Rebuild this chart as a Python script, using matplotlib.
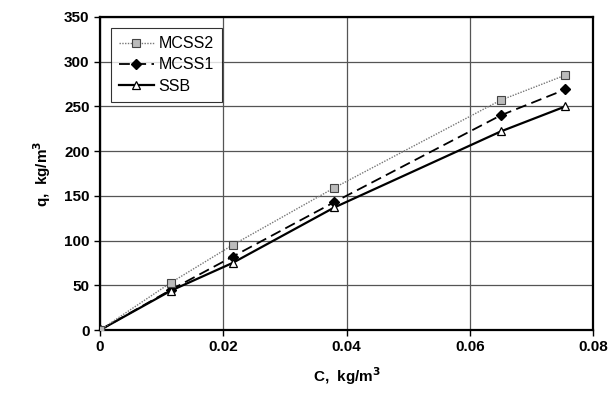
import matplotlib as mpl

mpl.use("Agg")

import matplotlib.pyplot as plt

conc = [0.0, 0.0115, 0.0215, 0.038, 0.065, 0.0755]
mcss2 = [0, 53, 95, 159, 257, 285]
mcss1 = [0, 45, 82, 143, 240, 269]
ssb = [0, 44, 75, 137, 222, 250]

x_ticks = [0, 0.02, 0.04, 0.06, 0.08]
x_labels = ["0", "0.02", "0.04", "0.06", "0.08"]
y_ticks = [0, 50, 100, 150, 200, 250, 300, 350]

plt.rcParams["font.family"] = ["Liberation Sans", "DejaVu Sans"]

fig = plt.figure(figsize=(6.14, 4.0), dpi=100)
ax = fig.add_axes([0.163, 0.175, 0.803, 0.7825])

ax.plot(conc, mcss2, color="#777777", lw=1.0, ls=(0, (1, 1)), marker="s", ms=6,
        mfc="#bbbbbb", mec="#444444", mew=0.8, label="MCSS2", zorder=4)
ax.plot(conc, mcss1, color="black", lw=1.3, ls=(0, (6, 3)), marker="D", ms=5,
        mfc="black", mec="black", label="MCSS1", zorder=3)
ax.plot(conc, ssb, color="black", lw=1.6, marker="^", ms=6,
        mfc="white", mec="black", mew=0.9, label="SSB", zorder=3)

ax.set_xlim(0, 0.08)
ax.set_ylim(0, 350)
ax.set_xticks(x_ticks)
ax.set_xticklabels(x_labels)
ax.set_yticks(y_ticks)
ax.grid(True, color="#555555", lw=0.9)
ax.set_axisbelow(True)
for spine in ax.spines.values():
    spine.set_linewidth(1.6)
    spine.set_color("black")
ax.tick_params(direction="out", length=4, width=1, labelsize=11)
for label in ax.get_xticklabels() + ax.get_yticklabels():
    label.set_fontweight("bold")

ax.set_xlabel("C,  kg/m$^\\mathbf{3}$", fontsize=11, fontweight="bold", labelpad=8)
ax.set_ylabel("q,  kg/m$^\\mathbf{3}$", fontsize=11, fontweight="bold", labelpad=8)

leg = ax.legend(loc="upper left", bbox_to_anchor=(0.005, 0.99), fontsize=11.5,
                frameon=True, fancybox=False, edgecolor="black", handlelength=2.2,
                borderpad=0.5, labelspacing=0.4, handletextpad=0.3)
leg.get_frame().set_linewidth(0.8)

fig.savefig("out.png", dpi=100)
